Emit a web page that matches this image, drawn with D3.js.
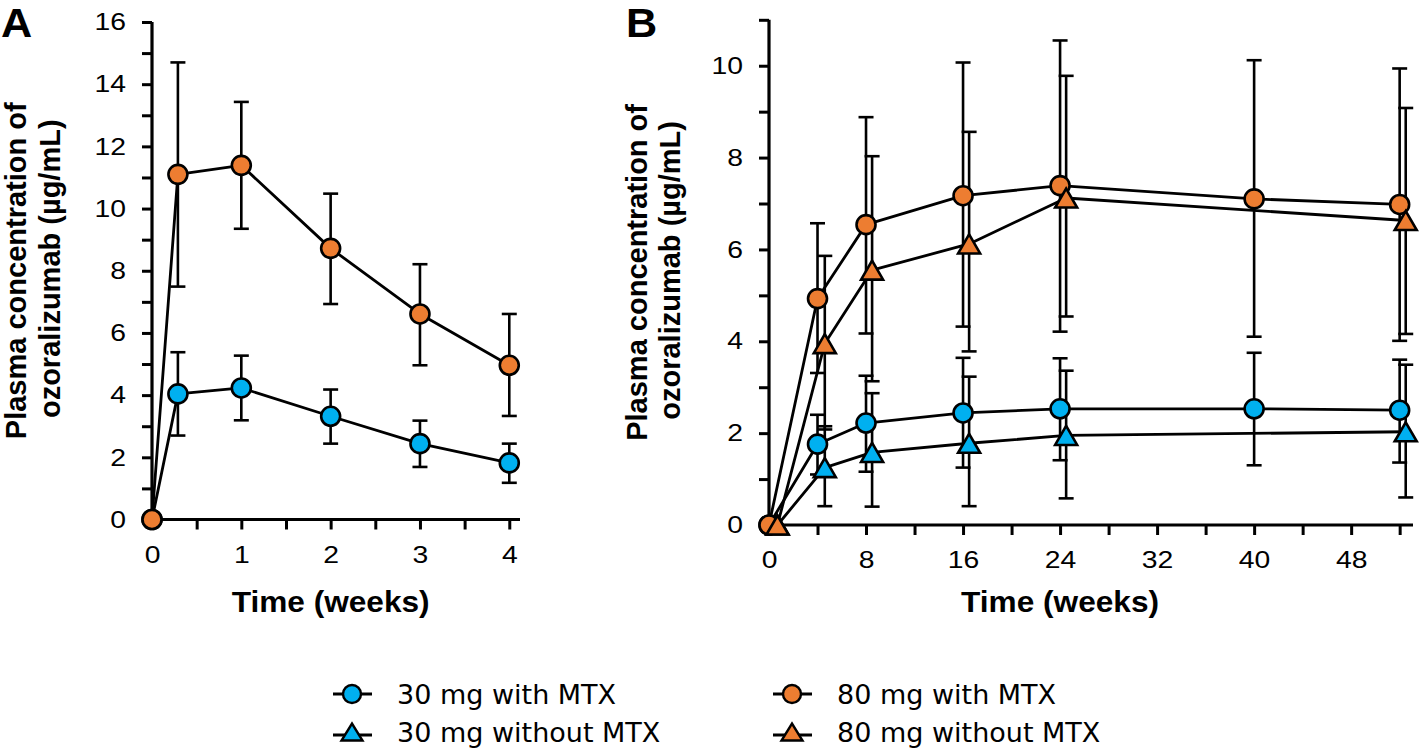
<!DOCTYPE html>
<html>
<head>
<meta charset="utf-8">
<script src="https://cdn.jsdelivr.net/npm/d3@7"></script>
<style>
  html, body { margin: 0; padding: 0; background: #fff; }
  svg { display: block; }
</style>
</head>
<body>
<svg id="chart" width="1420" height="753"></svg>
<script>
// ---------------- DATA ----------------
// Panel A (weeks 0-4)
const timeA = [0, 0.29, 1, 2, 3, 4];
const a30with   = [0, 4.04, 4.23, 3.32, 2.44, 1.82];
const a30withLo = [0, 2.70, 3.19, 2.44, 1.69, 1.18];
const a30withHi = [0, 5.38, 5.27, 4.18, 3.18, 2.44];
const a80with   = [0, 11.10, 11.39, 8.72, 6.61, 4.96];
const a80withLo = [0, 7.49, 9.35, 6.93, 4.96, 3.33];
const a80withHi = [0, 14.70, 13.43, 10.48, 8.21, 6.61];

// Panel B (weeks 0-52)
const timeBWith    = [0, 4, 8, 16, 24, 40, 52];
const timeBWithout = [0.7, 4.6, 8.5, 16.5, 24.5, 52.5];
const b30with      = [0, 1.76, 2.22, 2.44, 2.53, 2.53, 2.50];
const b30withLo    = [0, 1.10, 1.16, 1.25, 1.41, 1.30, 1.36];
const b30withHi    = [0, 2.40, 3.25, 3.64, 3.63, 3.75, 3.60];
const b30without   = [0, 1.25, 1.58, 1.78, 1.95, 2.03];
const b30withoutLo = [0, 0.41, 0.40, 0.41, 0.58, 0.60];
const b30withoutHi = [0, 2.15, 2.87, 3.23, 3.36, 3.49];
const b80with      = [0, 4.93, 6.54, 7.17, 7.39, 7.10, 6.98];
const b80withLo    = [0, 3.31, 4.17, 4.32, 4.21, 4.10, 4.01];
const b80withHi    = [0, 6.57, 8.88, 10.07, 10.55, 10.12, 9.94];
const b80without   = [0, 3.95, 5.55, 6.12, 7.12, 6.63];
const b80withoutLo = [0, 2.08, 3.13, 3.78, 4.54, 4.16];
const b80withoutHi = [0, 5.86, 8.03, 8.56, 9.78, 9.08];

// Axis ticks
const aXTicks = [0, 0.5, 1, 1.5, 2, 2.5, 3, 3.5, 4];
const aXLabels = [0, 1, 2, 3, 4];
const aYTicks = [0, 1, 2, 3, 4, 5, 6, 7, 8, 9, 10, 11, 12, 13, 14, 15, 16];
const aYLabels = [0, 2, 4, 6, 8, 10, 12, 14, 16];
const bXTicks = [0, 4, 8, 12, 16, 20, 24, 28, 32, 36, 40, 44, 48, 52];
const bXLabels = [0, 8, 16, 24, 32, 40, 48];
const bYTicks = [0, 1, 2, 3, 4, 5, 6, 7, 8, 9, 10, 11];
const bYLabels = [0, 2, 4, 6, 8, 10];

const seriesNames = ["30 mg with MTX", "30 mg without MTX", "80 mg with MTX", "80 mg without MTX"];
const xTitle = "Time (weeks)";
const yTitle1 = "Plasma concentration of";
const yTitle2 = "ozoralizumab (µg/mL)";

// ---------------- STYLE ----------------
const BLUE = "#00B0F0";
const ORANGE = "#ED7D31";
const TICKFONT = "'Liberation Sans', Arial, sans-serif";
const STRETCH = 1.18;

const svg = d3.select("#chart");

function triPath(w, h) {
  return `M${-w/2},${h/2} L${w/2},${h/2} L0,${-h/2} Z`;
}

function stretch(sel, f) {
  sel.each(function () {
    const w = this.getComputedTextLength();
    if (w > 0) d3.select(this).attr("textLength", w * f).attr("lengthAdjust", "spacingAndGlyphs");
  });
}

function pts(t, v, lo, hi) {
  return t.map((d, i) => ({ t: d, v: v[i], lo: lo[i], hi: hi[i] }));
}

function drawPanel(cfg) {
  const g = svg.append("g");
  const x = d3.scaleLinear().domain(cfg.xDomain).range(cfg.xRange);
  const y = d3.scaleLinear().domain(cfg.yDomain).range(cfg.yRange);

  const xAxis = d3.axisBottom(x).tickValues(cfg.xTicks).tickSize(10).tickSizeOuter(0).tickPadding(16)
    .tickFormat(d => cfg.xLabels.includes(d) ? String(d) : "");
  const yAxis = d3.axisLeft(y).tickValues(cfg.yTicks).tickSize(10).tickSizeOuter(0).tickPadding(16)
    .tickFormat(d => cfg.yLabels.includes(d) ? String(d) : "");

  const gx = g.append("g").attr("transform", `translate(0,${cfg.yRange[0]})`).call(xAxis);
  const gy = g.append("g").attr("transform", `translate(${cfg.xRange[0]},0)`).call(yAxis);
  [gx, gy].forEach(a => {
    a.select(".domain").attr("stroke", "#000").attr("stroke-width", 3.2);
    a.selectAll(".tick line").attr("stroke", "#000").attr("stroke-width", 3);
    a.selectAll(".tick text").attr("fill", "#000").style("font-family", TICKFONT).style("font-size", "24px");
    stretch(a.selectAll(".tick text"), STRETCH);
  });
  gx.select(".domain").attr("d", `M${cfg.xRange[0] - 1.5},0H${cfg.xRange[1]}`);
  gy.select(".domain").attr("d", `M0,${cfg.yRange[0]}V${cfg.yRange[1]}`);

  // error bars
  const capW = 15;
  const eg = g.append("g");
  cfg.series.forEach(s => {
    s.pts.forEach(p => {
      if (p.hi === p.lo) return;
      const px = x(p.t);
      eg.append("line").attr("x1", px).attr("x2", px).attr("y1", y(p.lo)).attr("y2", y(p.hi))
        .attr("stroke", "#000").attr("stroke-width", 2.6);
      [p.lo, p.hi].forEach(val => {
        eg.append("line").attr("x1", px - capW / 2).attr("x2", px + capW / 2)
          .attr("y1", y(val)).attr("y2", y(val)).attr("stroke", "#000").attr("stroke-width", 2.6);
      });
    });
  });

  // lines
  const line = d3.line().x(p => x(p.t)).y(p => y(p.v));
  cfg.series.forEach(s => {
    g.append("path").datum(s.pts).attr("d", line).attr("fill", "none")
      .attr("stroke", "#000").attr("stroke-width", 2.8).attr("stroke-linejoin", "round");
  });

  // markers
  cfg.series.forEach(s => {
    s.pts.forEach(p => {
      if (s.shape === "circle") {
        g.append("circle").attr("cx", x(p.t)).attr("cy", y(p.v)).attr("r", 9.5)
          .attr("fill", s.color).attr("stroke", "#000").attr("stroke-width", 2.6);
      } else {
        g.append("path").attr("d", triPath(22, 19))
          .attr("transform", `translate(${x(p.t)},${y(p.v)})`)
          .attr("fill", s.color).attr("stroke", "#000").attr("stroke-width", 2.6);
      }
    });
  });

  // axis titles
  const tx = (x(cfg.xLabels[0]) + x(cfg.xLabels[cfg.xLabels.length - 1])) / 2;
  g.append("text").attr("x", tx).attr("y", 612).attr("text-anchor", "middle")
    .style("font-family", TICKFONT).style("font-weight", "bold").style("font-size", "29px")
    .attr("textLength", 198).attr("lengthAdjust", "spacingAndGlyphs")
    .text(xTitle);
  const cy = (cfg.yRange[0] + cfg.yRange[1]) / 2;
  g.append("text").attr("transform", `translate(${cfg.yt1},${cy}) rotate(-90)`).attr("text-anchor", "middle")
    .style("font-family", TICKFONT).style("font-weight", "bold").style("font-size", "29px")
    .text(yTitle1);
  g.append("text").attr("transform", `translate(${cfg.yt2},${cy - 2}) rotate(-90)`).attr("text-anchor", "middle")
    .style("font-family", TICKFONT).style("font-weight", "bold").style("font-size", "29px")
    .text(yTitle2);

  // panel letter
  const lt = g.append("text").attr("x", cfg.letterX).attr("y", 37)
    .style("font-family", TICKFONT).style("font-weight", "bold").style("font-size", "40px")
    .text(cfg.letter);
  stretch(lt, 1.08);
}

drawPanel({
  letter: "A", letterX: 1,
  xDomain: [0, 4.12], xRange: [152, 520],
  yDomain: [0, 16], yRange: [519.5, 22],
  xTicks: aXTicks, xLabels: aXLabels, yTicks: aYTicks, yLabels: aYLabels,
  yt1: 26, yt2: 60,
  series: [
    { pts: pts(timeA, a30with, a30withLo, a30withHi), color: BLUE, shape: "circle" },
    { pts: pts(timeA, a80with, a80withLo, a80withHi), color: ORANGE, shape: "circle" }
  ]
});

drawPanel({
  letter: "B", letterX: 626,
  xDomain: [0, 53.1], xRange: [769, 1413],
  yDomain: [0, 11], yRange: [525, 19.8],
  xTicks: bXTicks, xLabels: bXLabels, yTicks: bYTicks, yLabels: bYLabels,
  yt1: 647, yt2: 680,
  series: [
    { pts: pts(timeBWith, b30with, b30withLo, b30withHi), color: BLUE, shape: "circle" },
    { pts: pts(timeBWithout, b30without, b30withoutLo, b30withoutHi), color: BLUE, shape: "triangle" },
    { pts: pts(timeBWith, b80with, b80withLo, b80withHi), color: ORANGE, shape: "circle" },
    { pts: pts(timeBWithout, b80without, b80withoutLo, b80withoutHi), color: ORANGE, shape: "triangle" }
  ]
});

// ---------------- LEGEND ----------------
const legendItems = [
  { name: seriesNames[0], color: BLUE, shape: "circle", cx: 352, cy: 694, base: 704 },
  { name: seriesNames[1], color: BLUE, shape: "triangle", cx: 352, cy: 732, base: 742 },
  { name: seriesNames[2], color: ORANGE, shape: "circle", cx: 792, cy: 694, base: 704 },
  { name: seriesNames[3], color: ORANGE, shape: "triangle", cx: 792, cy: 732, base: 742 }
];
const lg = svg.append("g");
legendItems.forEach(it => {
  const ly = it.shape === "circle" ? it.cy : it.cy + 3;
  lg.append("line").attr("x1", it.cx - 19).attr("x2", it.cx + 20).attr("y1", ly).attr("y2", ly)
    .attr("stroke", "#000").attr("stroke-width", 2.8);
  if (it.shape === "circle") {
    lg.append("circle").attr("cx", it.cx).attr("cy", it.cy).attr("r", 9)
      .attr("fill", it.color).attr("stroke", "#000").attr("stroke-width", 2.4);
  } else {
    lg.append("path").attr("d", triPath(21, 17)).attr("transform", `translate(${it.cx},${it.cy})`)
      .attr("fill", it.color).attr("stroke", "#000").attr("stroke-width", 2.4);
  }
  lg.append("text").attr("x", it.cx + 45).attr("y", it.base)
    .style("font-family", "'DejaVu Sans', Verdana, sans-serif").style("font-size", "27px")
    .attr("fill", "#000").text(it.name);
});
</script>
</body>
</html>
